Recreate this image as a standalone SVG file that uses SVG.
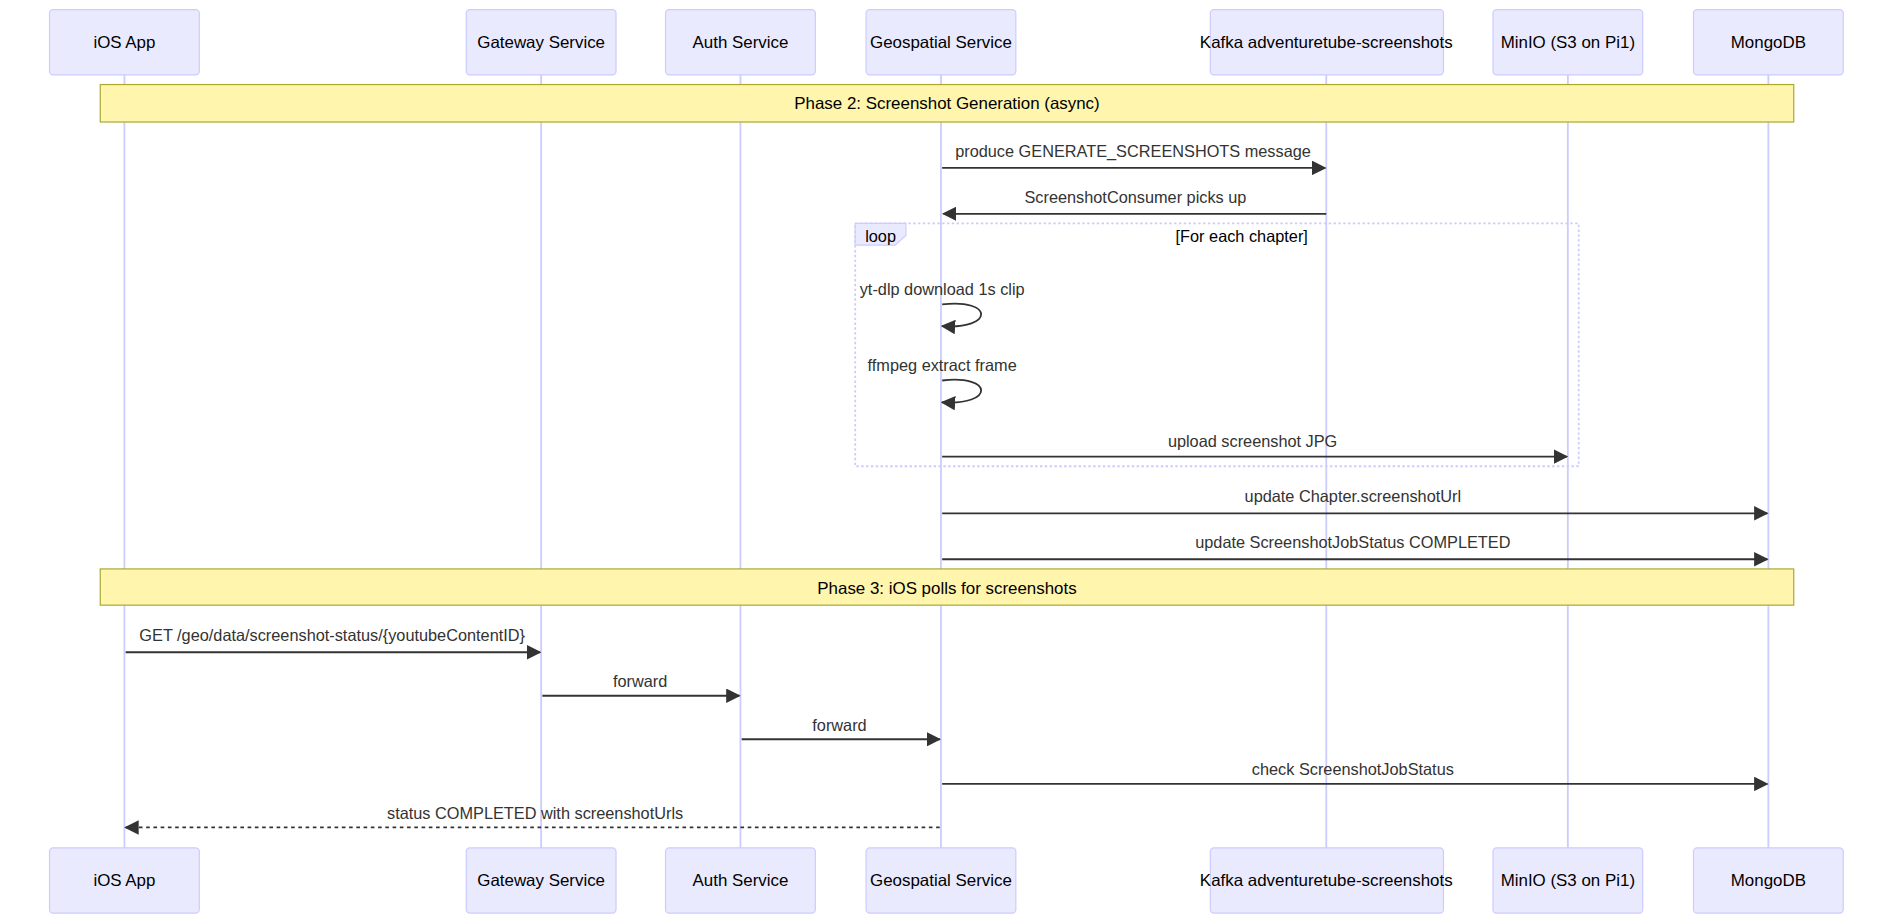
<svg xmlns="http://www.w3.org/2000/svg" width="1894" height="924" viewBox="0 0 1894 924">
<style>
.actor{fill:#eaeaff;stroke:#ccccff;stroke-width:1}
.at{font-family:"Liberation Sans",Arial,sans-serif;font-size:14px;fill:#000;text-anchor:middle;dominant-baseline:central}
.life{stroke:#ccccff;stroke-width:1.5}
.note{fill:#fff5ad;stroke:#aaaa33;stroke-width:1}
.msg{stroke:#333;stroke-width:1.5;fill:none}
.ml{font-family:"Liberation Sans",Arial,sans-serif;font-size:13.5px;fill:#333;text-anchor:middle}
</style>
<defs>
<marker id="arr" markerWidth="12" markerHeight="12" refX="9" refY="5" orient="auto" markerUnits="userSpaceOnUse" viewBox="0 0 10 10"><path d="M0,0 L10,5 L0,10 z" fill="#333"/></marker>
</defs>
<rect width="1894" height="924" fill="#fff"/>
<g transform="scale(1.2079)">
<g id="lifelines">
<line class="life" x1="103" y1="62" x2="103" y2="702"/>
<line class="life" x1="448" y1="62" x2="448" y2="702"/>
<line class="life" x1="613" y1="62" x2="613" y2="702"/>
<line class="life" x1="779" y1="62" x2="779" y2="702"/>
<line class="life" x1="1098" y1="62" x2="1098" y2="702"/>
<line class="life" x1="1298" y1="62" x2="1298" y2="702"/>
<line class="life" x1="1464" y1="62" x2="1464" y2="702"/>
</g>
<g id="actors-top">
<g id="a-ios"><rect class="actor" x="41" y="8" width="124" height="54" rx="3"/><text class="at" x="103" y="35">iOS App</text></g>
<g id="a-gw"><rect class="actor" x="386" y="8" width="124" height="54" rx="3"/><text class="at" x="448" y="35">Gateway Service</text></g>
<g id="a-auth"><rect class="actor" x="551" y="8" width="124" height="54" rx="3"/><text class="at" x="613" y="35">Auth Service</text></g>
<g id="a-geo"><rect class="actor" x="717" y="8" width="124" height="54" rx="3"/><text class="at" x="779" y="35">Geospatial Service</text></g>
<g id="a-kafka"><rect class="actor" x="1002" y="8" width="193" height="54" rx="3"/><text class="at" x="1098" y="35">Kafka adventuretube-screenshots</text></g>
<g id="a-minio"><rect class="actor" x="1236" y="8" width="124" height="54" rx="3"/><text class="at" x="1298" y="35">MinIO (S3 on Pi1)</text></g>
<g id="a-mongo"><rect class="actor" x="1402" y="8" width="124" height="54" rx="3"/><text class="at" x="1464" y="35">MongoDB</text></g>
</g>
<g id="actors-bottom">
<g id="b-ios"><rect class="actor" x="41" y="702" width="124" height="54" rx="3"/><text class="at" x="103" y="729">iOS App</text></g>
<g id="b-gw"><rect class="actor" x="386" y="702" width="124" height="54" rx="3"/><text class="at" x="448" y="729">Gateway Service</text></g>
<g id="b-auth"><rect class="actor" x="551" y="702" width="124" height="54" rx="3"/><text class="at" x="613" y="729">Auth Service</text></g>
<g id="b-geo"><rect class="actor" x="717" y="702" width="124" height="54" rx="3"/><text class="at" x="779" y="729">Geospatial Service</text></g>
<g id="b-kafka"><rect class="actor" x="1002" y="702" width="193" height="54" rx="3"/><text class="at" x="1098" y="729">Kafka adventuretube-screenshots</text></g>
<g id="b-minio"><rect class="actor" x="1236" y="702" width="124" height="54" rx="3"/><text class="at" x="1298" y="729">MinIO (S3 on Pi1)</text></g>
<g id="b-mongo"><rect class="actor" x="1402" y="702" width="124" height="54" rx="3"/><text class="at" x="1464" y="729">MongoDB</text></g>
</g>
<g id="notes">
<g id="phase2"><rect class="note" x="83" y="70" width="1402" height="31"/><text class="at" x="784" y="86">Phase 2: Screenshot Generation (async)</text></g>
<g id="phase3"><rect class="note" x="83" y="471" width="1402" height="30"/><text class="at" x="784" y="487">Phase 3: iOS polls for screenshots</text></g>
</g>
<g id="loop">
<rect x="708" y="185" width="599" height="201" fill="none" stroke="#ccccff" stroke-width="1.5" stroke-dasharray="2,2"/>
<path d="M708,185 H750 V195 L741,203 H708 Z" fill="#eaeaff" stroke="#ccccff"/>
<text class="ml" x="729" y="200" fill="#000" style="fill:#000">loop</text>
<text class="ml" x="1028" y="200" style="fill:#000">[For each chapter]</text>
</g>
<g id="connectors">
<line class="msg" x1="780" y1="139" x2="1097" y2="139" marker-end="url(#arr)"/>
<text class="ml" x="938" y="130">produce GENERATE_SCREENSHOTS message</text>
<line class="msg" x1="1098" y1="177" x2="781" y2="177" marker-end="url(#arr)"/>
<text class="ml" x="940" y="168">ScreenshotConsumer picks up</text>
<path class="msg" d="M780,252 C823,247 823,273 780,270" marker-end="url(#arr)"/>
<text class="ml" x="780" y="244">yt-dlp download 1s clip</text>
<path class="msg" d="M780,315 C823,310 823,336 780,333" marker-end="url(#arr)"/>
<text class="ml" x="780" y="307">ffmpeg extract frame</text>
<line class="msg" x1="780" y1="378" x2="1297" y2="378" marker-end="url(#arr)"/>
<text class="ml" x="1037" y="370">upload screenshot JPG</text>
<line class="msg" x1="780" y1="425" x2="1463" y2="425" marker-end="url(#arr)"/>
<text class="ml" x="1120" y="416">update Chapter.screenshotUrl</text>
<line class="msg" x1="780" y1="463" x2="1463" y2="463" marker-end="url(#arr)"/>
<text class="ml" x="1120" y="454">update ScreenshotJobStatus COMPLETED</text>
<line class="msg" x1="104" y1="540" x2="447" y2="540" marker-end="url(#arr)"/>
<text class="ml" x="275" y="531">GET /geo/data/screenshot-status/{youtubeContentID}</text>
<line class="msg" x1="449" y1="576" x2="612" y2="576" marker-end="url(#arr)"/>
<text class="ml" x="530" y="569">forward</text>
<line class="msg" x1="614" y1="612" x2="778" y2="612" marker-end="url(#arr)"/>
<text class="ml" x="695" y="605">forward</text>
<line class="msg" x1="780" y1="649" x2="1463" y2="649" marker-end="url(#arr)"/>
<text class="ml" x="1120" y="642">check ScreenshotJobStatus</text>
<line class="msg" x1="778" y1="685" x2="104" y2="685" stroke-dasharray="3,3" marker-end="url(#arr)"/>
<text class="ml" x="443" y="678">status COMPLETED with screenshotUrls</text>
</g>
</g>
</svg>
